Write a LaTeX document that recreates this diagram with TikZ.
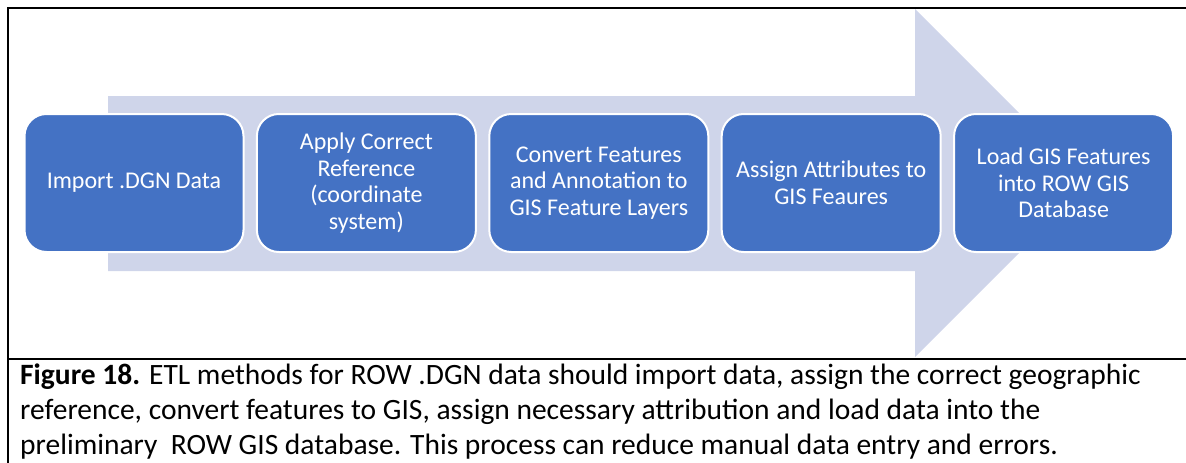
\documentclass[tikz,border=0pt]{standalone}
\usepackage{fontspec}
\setmainfont{Carlito}
\usetikzlibrary{positioning}
\definecolor{myblue}{RGB}{68,114,196}
\definecolor{mylight}{RGB}{207,213,234}

\begin{document}
\begin{tikzpicture}[x=1pt,y=-1pt,
  stepnode/.style={draw=white,line width=2pt,fill=myblue,rounded corners=22pt,
    minimum width=219pt,minimum height=138pt,text=white,align=center,
    font=\fontsize{24}{26.5}\selectfont},
  framelines/.style={line width=2pt},
  capnode/.style={anchor=north west,align=left,inner sep=0pt,
    font=\fontsize{29.5}{35}\selectfont}]

 \useasboundingbox (0,0) rectangle (1186,463);

 % big arrow behind the steps
 \fill[mylight] (108,96) -- (915,96) -- (915,9) -- (1089,183)
   -- (915,357) -- (915,271) -- (108,271) -- cycle;

 % draw the steps
 \node[stepnode] (step1) at (134,183) {Import .DGN Data};
 \node[stepnode,right=11.4pt of step1] (step2) {Apply Correct\\Reference\\(coordinate\\system)};
 \node[stepnode,right=11.4pt of step2] (step3) {Convert Features\\and Annotation to\\GIS Feature Layers};
 \node[stepnode,right=11.4pt of step3] (step4) {Assign Attributes to\\GIS Feaures};
 \node[stepnode,right=11.4pt of step4] (step5) {Load GIS Features\\into ROW GIS\\Database};

 % frame and caption
 \draw[framelines] (1186,7.5) -- (7.5,7.5) -- (7.5,463);
 \draw[framelines] (7.5,359) -- (1186,359);

 \node[capnode] (caption) at (20,364) {\textbf{Figure 18.} ETL methods for ROW .DGN data should import data, assign the correct geographic\\
 reference, convert features to GIS, assign necessary attribution and load data into the\\
 preliminary\ \ ROW GIS database. This process can reduce manual data entry and errors.};

\end{tikzpicture}
\end{document}
